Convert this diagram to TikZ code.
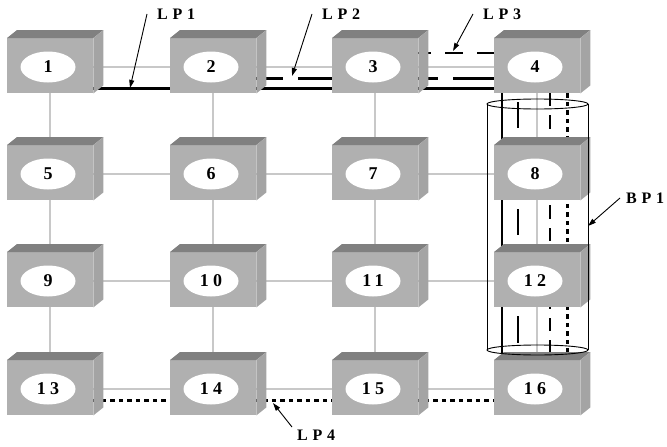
\documentclass[tikz,border=0pt]{standalone}
\usepackage{fontspec}
\setmainfont{Liberation Serif}
\newfontfamily\numfont{Liberation Serif}[LetterSpace=24]
\newfontfamily\labfont{Liberation Serif}[LetterSpace=30]
\usetikzlibrary{calc,arrows.meta,shapes.geometric}
\pgfdeclarelayer{bg}
\pgfsetlayers{bg,main}
\definecolor{frontc}{RGB}{176,176,176}
\definecolor{topc}{RGB}{128,128,128}
\definecolor{sidec}{RGB}{164,164,164}
\definecolor{gridc}{RGB}{200,200,200}
\tikzset{
  frontbox/.style={rectangle, fill=frontc, minimum width=86pt, minimum height=55pt, inner sep=0pt, anchor=north west},
  ell/.style={ellipse, fill=white, minimum width=55pt, minimum height=31pt, inner sep=0pt,
    font=\fontsize{18}{18}\selectfont\numfont\bfseries},
  topface/.style={fill=topc},
  sideface/.style={fill=sidec},
  gridline/.style={draw=gridc, line width=1.6pt},
  lpsolid/.style={draw=black, line width=2.6pt},
  lpthick/.style={draw=black, line width=2.6pt},
  lpdot/.style={draw=black, line width=3pt, dash pattern={on 4.5pt off 4pt}},
  lpdashdot/.style={draw=black, line width=2.6pt},
  cyl/.style={draw=black, line width=0.9pt},
  lab/.style={anchor=west, inner sep=0pt, font=\fontsize{16}{16}\selectfont\labfont\bfseries},
  pointer/.style={draw=black, line width=0.9pt, -{Triangle[length=8pt,width=5pt]}}
}
\newcommand\netbox[4]{%
  \node[frontbox] (b#1) at (#2,#3) {};
  \fill[topface] (b#1.north west) -- (b#1.north east) -- ++(10pt,8pt)
     -- ([shift={(10pt,8pt)}]b#1.north west) -- cycle;
  \fill[sideface] (b#1.north east) -- ++(10pt,8pt)
     -- ([shift={(10pt,8pt)}]b#1.south east) -- (b#1.south east) -- cycle;
  \node[ell] (e#1) at ([shift={(41pt,-29pt)}]b#1.north west) {#4};
}
\begin{document}
\begin{tikzpicture}[x=1pt,y=-1pt]
\useasboundingbox (0,0) rectangle (667,447);
% boxes
\netbox{1}{7}{38}{1}
\netbox{2}{170}{38}{2}
\netbox{3}{332}{38}{3}
\netbox{4}{494}{38}{4}
\netbox{5}{7}{145}{5}
\netbox{6}{170}{145}{6}
\netbox{7}{332}{145}{7}
\netbox{8}{494}{145}{8}
\netbox{9}{7}{252}{9}
\netbox{10}{170}{252}{10}
\netbox{11}{332}{252}{11}
\netbox{12}{494}{252}{12}
\netbox{13}{7}{360}{13}
\netbox{14}{170}{360}{14}
\netbox{15}{332}{360}{15}
\netbox{16}{494}{360}{16}
\begin{pgfonlayer}{bg}
  % grid links
  \foreach \a/\b in {1/2,2/3,3/4,5/6,6/7,7/8,9/10,10/11,11/12,13/14,14/15,15/16}
    \draw[gridline] (e\a.center) -- (e\b.center);
  \foreach \a/\b in {1/5,5/9,9/13,2/6,6/10,10/14,3/7,7/11,11/15,4/8,8/12,12/16}
    \draw[gridline] (b\a.south) -- (b\b.north);
  % LP1
  \draw[lpsolid] ([yshift=5pt]b1.south east) -- ([shift={(8pt,5pt)}]b4.south west)
     -- ([xshift=8pt]b16.north west);
  % LP2
  \draw[lpthick, dash pattern={on 27pt off 15pt on 300pt}]
     ([yshift=15pt]b2.south east) -- ([yshift=15pt]b3.south west);
  \draw[lpthick, dash pattern={on 20pt off 15pt on 300pt}]
     ([yshift=15pt]b3.south east) -- ([yshift=15pt]b4.south west);
  \foreach \a/\b in {4/8,8/12,12/16}
    \draw[lpthick, shorten <=9pt, shorten >=17pt]
      ([xshift=24pt]b\a.south west) -- ([xshift=24pt]b\b.north west);
  % LP3
  \draw[lpdashdot, dash pattern={on 13pt off 14pt on 18pt off 14pt on 60pt}]
     ([yshift=-15pt]b3.north east) -- ([yshift=-15pt]b4.north west);
  \draw[lpdashdot, dash pattern={on 13pt off 9pt on 14pt off 9pt}]
     ([xshift=56pt]b4.south west) -- ([xshift=56pt]b16.north west);
  % LP4
  \draw[lpdot] ([yshift=15pt]b13.south east) -- ([yshift=15pt]b16.south west);
  \draw[lpdot] ([xshift=73pt]b4.south west) -- ([xshift=73pt]b16.north west);
\end{pgfonlayer}
% backup path cylinder BP1
\draw[cyl] (537.5,104) ellipse [x radius=50.5pt, y radius=5pt];
\draw[cyl] (537.5,350) ellipse [x radius=50.5pt, y radius=5pt];
\draw[cyl] (487,104) -- (487,350);
\draw[cyl] (588,104) -- (588,350);
\coordinate (bp1) at (588,226);
% labels
\node[lab] (llp1) at (157,14) {LP1};
\node[lab] (llp2) at (322,14) {LP2};
\node[lab] (llp3) at (483,14) {LP3};
\node[lab] (llp4) at (297,435) {LP4};
\node[lab] (lbp1) at (626,198) {BP1};
\coordinate (t1) at (130,88);
\coordinate (t2) at (292,76);
\coordinate (t3) at (453,51);
\coordinate (t4) at (273,403);
\draw[pointer] ([xshift=-10pt]llp1.west) -- (t1);
\draw[pointer] ([xshift=-10pt]llp2.west) -- (t2);
\draw[pointer] ([xshift=-10pt]llp3.west) -- (t3);
\draw[pointer] ([shift={(-5pt,8pt)}]llp4.west) -- (t4);
\draw[pointer] ([xshift=-6pt]lbp1.west) -- (bp1);
\end{tikzpicture}
\end{document}
